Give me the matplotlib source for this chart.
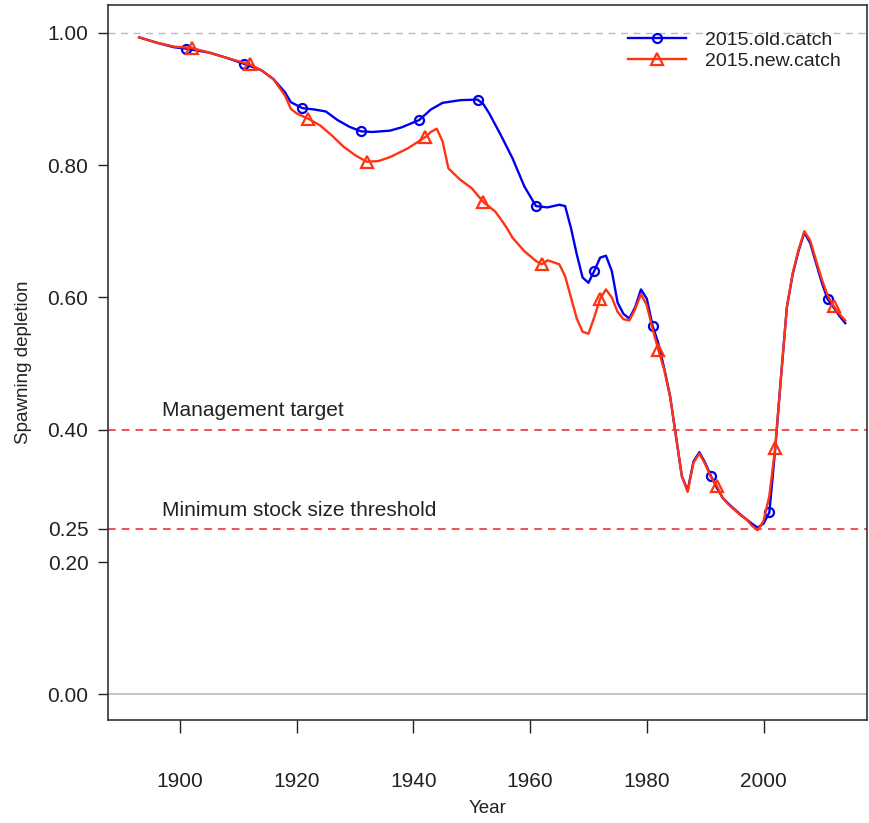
import matplotlib
matplotlib.use("Agg")
import matplotlib.pyplot as plt
import numpy as np

plt.rcParams['font.family'] = ['Liberation Sans', 'DejaVu Sans']

# spawning depletion, 2015.old.catch
old_years = [1893, 1896, 1899, 1901, 1905, 1908, 1911, 1914, 1916, 1918, 1919,
             1921, 1923, 1925, 1927, 1929, 1931, 1933, 1936, 1938, 1941, 1943,
             1945, 1948, 1951, 1952, 1953, 1955, 1957, 1959, 1961, 1963, 1965,
             1966, 1967, 1968, 1969, 1970, 1971, 1972, 1973, 1974, 1975, 1976,
             1977, 1978, 1979, 1980, 1981, 1982, 1983, 1984, 1985, 1986, 1987,
             1988, 1989, 1990, 1991, 1992, 1993, 1994, 1995, 1996, 1997, 1998,
             1999, 2000, 2001, 2002, 2003, 2004, 2005, 2006, 2007, 2008, 2009,
             2010, 2011, 2012, 2013, 2014]
old_vals = [0.993, 0.985, 0.978, 0.976, 0.970, 0.962, 0.953, 0.943, 0.930, 0.910, 0.895,
            0.886, 0.884, 0.881, 0.868, 0.858, 0.851, 0.850, 0.852, 0.857, 0.868, 0.884,
            0.894, 0.898, 0.899, 0.892, 0.878, 0.845, 0.810, 0.768, 0.738, 0.736, 0.740,
            0.738, 0.705, 0.665, 0.630, 0.622, 0.640, 0.660, 0.663, 0.640, 0.592, 0.575,
            0.568, 0.585, 0.612, 0.598, 0.557, 0.530, 0.492, 0.450, 0.390, 0.330, 0.308,
            0.352, 0.366, 0.350, 0.330, 0.312, 0.297, 0.288, 0.280, 0.272, 0.265, 0.258,
            0.252, 0.258, 0.275, 0.370, 0.480, 0.585, 0.635, 0.670, 0.698, 0.682, 0.652,
            0.622, 0.597, 0.585, 0.572, 0.561]
old_marks = [1901, 1911, 1921, 1931, 1941, 1951, 1961, 1971, 1981, 1991, 2001, 2011]

# spawning depletion, 2015.new.catch
new_years = [1893, 1896, 1899, 1902, 1905, 1908, 1912, 1914, 1916, 1918, 1919,
             1920, 1922, 1924, 1926, 1928, 1930, 1932, 1934, 1936, 1939, 1942,
             1943, 1944, 1945, 1946, 1948, 1950, 1952, 1954, 1955, 1956, 1957,
             1959, 1961, 1962, 1963, 1965, 1966, 1967, 1968, 1969, 1970, 1971,
             1972, 1973, 1974, 1975, 1976, 1977, 1978, 1979, 1980, 1981, 1982,
             1983, 1984, 1985, 1986, 1987, 1988, 1989, 1990, 1991, 1992, 1993,
             1994, 1995, 1996, 1997, 1998, 1999, 2000, 2001, 2002, 2003, 2004,
             2005, 2006, 2007, 2008, 2009, 2010, 2011, 2012, 2013, 2014]
new_vals = [0.993, 0.985, 0.979, 0.977, 0.970, 0.962, 0.952, 0.943, 0.930, 0.905, 0.885,
            0.878, 0.870, 0.860, 0.845, 0.828, 0.815, 0.805, 0.806, 0.812, 0.825, 0.842,
            0.850, 0.855, 0.836, 0.795, 0.778, 0.765, 0.744, 0.730, 0.718, 0.705, 0.690,
            0.670, 0.655, 0.650, 0.656, 0.650, 0.632, 0.600, 0.568, 0.548, 0.545, 0.570,
            0.598, 0.612, 0.600, 0.578, 0.567, 0.565, 0.582, 0.605, 0.588, 0.552, 0.520,
            0.490, 0.450, 0.390, 0.330, 0.306, 0.350, 0.364, 0.348, 0.328, 0.315, 0.297,
            0.287, 0.279, 0.271, 0.265, 0.255, 0.248, 0.262, 0.300, 0.373, 0.480, 0.585,
            0.637, 0.672, 0.700, 0.686, 0.656, 0.627, 0.603, 0.587, 0.575, 0.565]
new_marks = [1902, 1912, 1922, 1932, 1942, 1952, 1962, 1972, 1982, 1992, 2002, 2012]

yticks = [0.0, 0.20, 0.25, 0.40, 0.60, 0.80, 1.00]
xticks = [1900, 1920, 1940, 1960, 1980, 2000]

fig = plt.figure(figsize=(8.7, 8.23), dpi=100)
ax = fig.add_axes([0.124, 0.125, 0.873, 0.869])

blue = '#0000EE'
red = '#FF3311'
txt = '#222222'

ax.axhline(1.0, color='#BBBBBB', ls=(0, (5, 4)), lw=1.0, zorder=1)
ax.axhline(0.0, color='#BBBBBB', lw=1.2, zorder=1)
ax.axhline(0.40, color='#EE2222', ls=(0, (5, 4)), lw=1.1, zorder=1)
ax.axhline(0.25, color='#EE2222', ls=(0, (5, 4)), lw=1.1, zorder=1)

ax.text(1897, 0.414, "Management target", fontsize=15, color=txt,
        ha='left', va='bottom')
ax.text(1897, 0.264, "Minimum stock size threshold", fontsize=15, color=txt,
        ha='left', va='bottom')

old_idx = [old_years.index(y) for y in old_marks]
new_idx = [new_years.index(y) for y in new_marks]

ax.plot(old_years, old_vals, color=blue, lw=1.7, marker='o', markevery=old_idx,
        ms=6.5, mfc='none', mec=blue, mew=1.6, label='2015.old.catch', zorder=3)
ax.plot(new_years, new_vals, color=red, lw=1.7, marker='^', markevery=new_idx,
        ms=8.5, mfc='none', mec=red, mew=1.6, label='2015.new.catch', zorder=4)

ax.set_xlim(1887.65, 2017.8)
ax.set_ylim(-0.039, 1.042)
ax.set_xticks(xticks)
ax.set_yticks(yticks)
ax.set_yticklabels(["%.2f" % v for v in yticks])
ax.tick_params(axis='x', length=9.5, width=1, pad=28, labelsize=15, colors=txt)
ax.tick_params(axis='y', length=7, width=1, pad=7, labelsize=15, colors=txt)
for s in ax.spines.values():
    s.set_color('#333333')
    s.set_linewidth(1.2)

ax.set_xlabel("Year", fontsize=13.5, color=txt, labelpad=6)
ax.set_ylabel("Spawning depletion", fontsize=13.5, color=txt, labelpad=11)

leg = ax.legend(loc='upper right', frameon=False, fontsize=14, handlelength=3.0,
                borderaxespad=0.95, labelspacing=0.2, handletextpad=1.0)
for t in leg.get_texts():
    t.set_color(txt)

fig.savefig("out.png", dpi=100)
